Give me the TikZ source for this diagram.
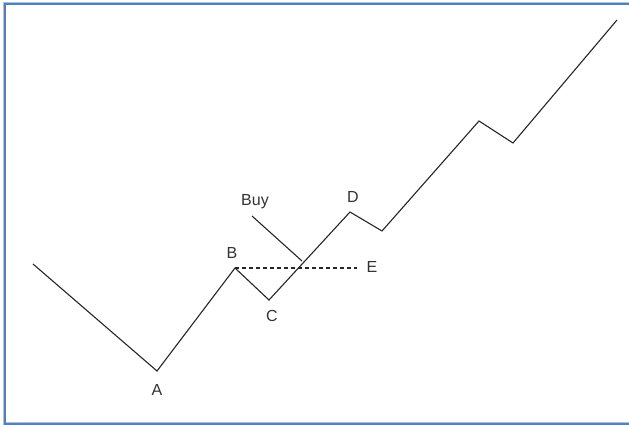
\documentclass[tikz,border=0pt]{standalone}
\usepackage{fontspec}
\setmainfont{Liberation Sans}
\definecolor{frameblue}{RGB}{79,129,189}
\definecolor{frameglow}{RGB}{170,195,225}
\begin{document}
\begin{tikzpicture}[x=1pt,y=-1pt,
  price/.style={draw=black!85,line width=1.1pt,line join=miter},
  lbl/.style={font=\fontsize{16}{18}\selectfont,text=black!80,inner sep=0pt}]
\useasboundingbox (0,0) rectangle (629,428);
\fill[white] (0,0) rectangle (629,428);
% frame (left, top, bottom only visible)
\draw[frameglow,line width=3.4pt] (640,3.7) -- (4.7,3.7) -- (4.7,423.7) -- (640,423.7);
\draw[frameblue,line width=2pt] (640,3.7) -- (4.7,3.7) -- (4.7,423.7) -- (640,423.7);
% vertices
\coordinate (s) at (33,264);
\coordinate (a) at (157,371);
\coordinate (b) at (235,268);
\coordinate (c) at (269,300);
\coordinate (d) at (350,212);
\coordinate (d2) at (382,231);
\coordinate (p) at (479,121);
\coordinate (q) at (513,143);
\coordinate (t) at (617,20);
\coordinate (buy1) at (252,216);
\coordinate (buy2) at (302,261);
\coordinate (e) at (357,268);
\draw[price] (s) -- (a) -- (b) -- (c) -- (d) -- (d2) -- (p) -- (q) -- (t);
\draw[price] (buy1) -- (buy2);
\draw[price,dash pattern=on 4pt off 3pt] (b) -- (e);
\node[lbl] (la) at (157,390) {A};
\node[lbl] (lb) at (232,253) {B};
\node[lbl] (lc) at (272,316) {C};
\node[lbl] (ld) at (353,197) {D};
\node[lbl] (le) at (372,267) {E};
\node[lbl] (lbuy) at (255,202) {Buy};
\end{tikzpicture}
\end{document}
